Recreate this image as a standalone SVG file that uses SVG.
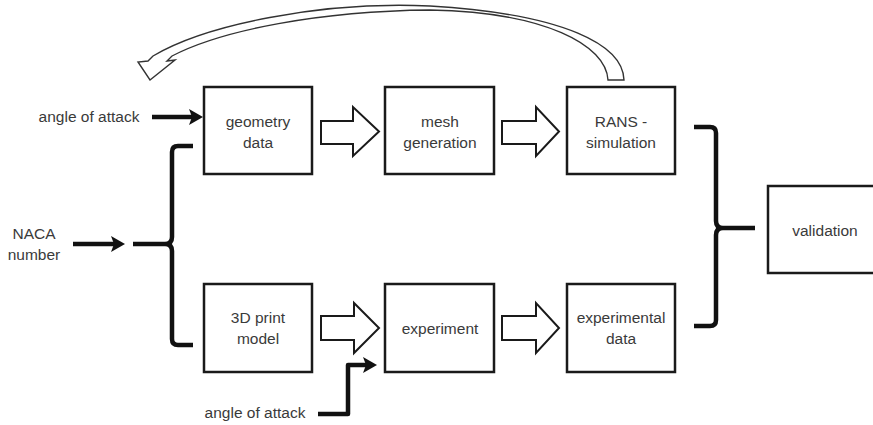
<svg xmlns="http://www.w3.org/2000/svg" width="873" height="425" viewBox="0 0 873 425">
<style>
.box{fill:#fff;stroke:#1a1a1a;stroke-width:2.5}
.t{font-family:"Liberation Sans",Arial,sans-serif;font-size:15.5px;fill:#3a3a3a;text-anchor:middle}
.blk{fill:#fff;stroke:#1a1a1a;stroke-width:2;stroke-linejoin:miter}
.thick{fill:none;stroke:#111;stroke-width:4.5;stroke-linejoin:round}
.head{fill:#111}
.curve{fill:#fff;stroke:#333;stroke-width:1.4;stroke-linejoin:miter}
</style>
<rect width="873" height="425" fill="#fff"/>
<g id="geometry">
<rect class="box" x="204" y="87" width="108" height="87"/>
<text class="t" x="258" y="127">geometry</text>
<text class="t" x="258" y="148">data</text>
</g>
<g id="mesh">
<rect class="box" x="385" y="87" width="109" height="87"/>
<text class="t" x="440" y="127">mesh</text>
<text class="t" x="440" y="148">generation</text>
</g>
<g id="rans">
<rect class="box" x="567" y="87" width="108" height="87"/>
<text class="t" x="621" y="127">RANS -</text>
<text class="t" x="621" y="148">simulation</text>
</g>
<g id="print">
<rect class="box" x="204" y="284" width="108" height="88"/>
<text class="t" x="258" y="323">3D print</text>
<text class="t" x="258" y="344">model</text>
</g>
<g id="experiment">
<rect class="box" x="385" y="284" width="109" height="88"/>
<text class="t" x="440" y="334">experiment</text>
</g>
<g id="expdata">
<rect class="box" x="567" y="284" width="108" height="88"/>
<text class="t" x="621" y="323">experimental</text>
<text class="t" x="621" y="344">data</text>
</g>
<g id="validation">
<rect class="box" x="768" y="186" width="115" height="87"/>
<text class="t" x="825" y="236">validation</text>
</g>
<g id="labels">
<text class="t" x="89" y="122">angle of attack</text>
<text class="t" x="34" y="239">NACA</text>
<text class="t" x="34" y="260">number</text>
<text class="t" x="255" y="418">angle of attack</text>
</g>
<g id="connectors">
<polygon class="blk" points="321,121 353,121 353,107 379,131.5 353,156 353,144 321,144"/>
<polygon class="blk" points="502,121 536,121 536,107 559,131.5 536,156 536,144 502,144"/>
<polygon class="blk" points="321,316 354,316 354,303 379,328 354,353 354,340 321,340"/>
<polygon class="blk" points="502,316 536,316 536,303 559,328 536,353 536,340 502,340"/>
<path class="curve" d="M624,80 C623,45 565,14 430,6 C320,1 205,25 153,56 L148,61 L138,62 L150,80 L175,60 L167,61 L172,56 C222,30 320,11 430,10 C545,12 606,45 608,80 Z"/>
<line class="thick" x1="152" y1="117" x2="192" y2="117"/>
<polygon class="head" points="189,109 203,117 189,125 192,117"/>
<line class="thick" x1="73" y1="244" x2="114" y2="244"/>
<polygon class="head" points="111,236 125,244 111,252 114,244"/>
<path class="thick" d="M318,414 L348,414 L348,365 L366,365"/>
<polygon class="head" points="363,357 377,365 363,373 366,365"/>
<path class="thick" d="M193,146 L178,146 Q172,146 172,152 L172,237 Q172,244 165,244 L133,244 M165,244 Q172,244 172,251 L172,339 Q172,345 178,345 L193,345"/>
<path class="thick" d="M694,127 L710,127 Q716,127 716,133 L716,221 Q716,228 723,228 L755,228 M723,228 Q716,228 716,235 L716,320 Q716,326 710,326 L694,326"/>
</g>
</svg>
